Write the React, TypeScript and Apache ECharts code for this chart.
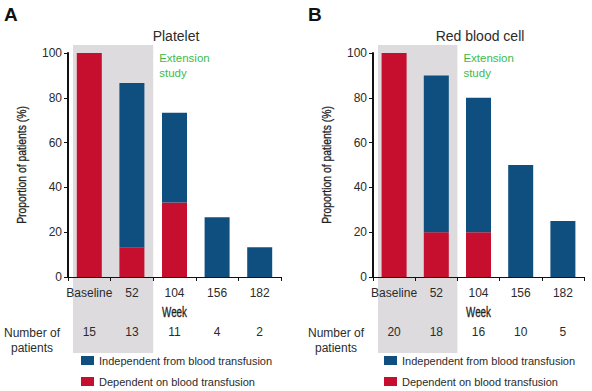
import React, { useEffect, useRef } from "react";
import * as echarts from "echarts";

const weeks = ["Baseline", "52", "104", "156", "182"];
const plateletIndependent = [0, 73.3, 40, 26.7, 13.3];
const plateletDependent = [100, 13.3, 33.3, 0, 0];
const rbcIndependent = [0, 70, 60, 50, 25];
const rbcDependent = [100, 20, 20, 0, 0];
const plateletPatients = [15, 13, 11, 4, 2];
const rbcPatients = [20, 18, 16, 10, 5];
const yTicks = [0, 20, 40, 60, 80, 100];

const BLUE = "#0e4f80";
const RED = "#c60f2e";
const GRAY = "#dddbde";
const GREEN = "#3dbb4a";
const TXT = "#2b2b2b";
const FONT = "'Liberation Sans', Arial, sans-serif";

const IND = "Independent from blood transfusion";
const DEP = "Dependent on blood transfusion";

export default function App() {
  const ref = useRef<HTMLDivElement>(null);
  useEffect(() => {
    if (!ref.current) return;
    const chart = echarts.init(ref.current, undefined, { renderer: "svg" });
    const grids = [
      { left: 68, top: 53, width: 213, height: 224 },
      { left: 373, top: 53, width: 211, height: 224 },
    ];
    const xAxis = grids.map((_, i) => ({
      type: "category",
      gridIndex: i,
      data: weeks,
      axisLine: { lineStyle: { color: "#111", width: 1 } },
      axisTick: { show: true, length: 4, lineStyle: { color: "#111" } },
      axisLabel: { fontFamily: FONT, fontSize: 12, color: TXT, margin: 10, interval: 0 },
    }));
    const yAxis = grids.map((_, i) => ({
      type: "value",
      gridIndex: i,
      min: 0,
      max: 100,
      interval: 20,
      axisLine: { show: true, lineStyle: { color: "#111", width: 2 } },
      axisTick: { show: true, length: 4, lineStyle: { color: "#111" } },
      splitLine: { show: false },
      axisLabel: { fontFamily: FONT, fontSize: 12, color: TXT, margin: 6, customValues: yTicks },
    }));
    const mk = (name: string, data: number[], color: string, idx: number) => ({
      type: "bar",
      name,
      xAxisIndex: idx,
      yAxisIndex: idx,
      stack: "s" + idx,
      barWidth: 25,
      data,
      itemStyle: { color },
      z: 3,
    });
    const series = [
      mk(DEP, plateletDependent, RED, 0),
      mk(IND, plateletIndependent, BLUE, 0),
      mk(DEP, rbcDependent, RED, 1),
      mk(IND, rbcIndependent, BLUE, 1),
    ];
    const legendBase = {
      orient: "vertical",
      top: 355,
      padding: 0,
      itemWidth: 13,
      itemHeight: 9,
      itemGap: 10,
      icon: "rect",
      selectedMode: false,
      data: [
        { name: IND, itemStyle: { color: BLUE } },
        { name: DEP, itemStyle: { color: RED } },
      ],
      textStyle: { fontFamily: FONT, fontSize: 11, color: TXT },
      itemStyle: { borderWidth: 0 },
    };
    chart.setOption({
      animation: false,
      backgroundColor: "#fff",
      grid: grids,
      xAxis,
      yAxis,
      series,
      legend: [
        { ...legendBase, left: 81 },
        { ...legendBase, left: 384 },
      ],
    });

    const graphics: any[] = [];
    const panels = [
      { idx: 0, letter: "A", letterX: 4, title: "Platelet", titleX: 176, patients: plateletPatients, labelX: 32, yLabelX: 22 },
      { idx: 1, letter: "B", letterX: 308, title: "Red blood cell", titleX: 480, patients: rbcPatients, labelX: 336, yLabelX: 327 },
    ];
    panels.forEach((p) => {
      const gi = { xAxisIndex: p.idx, yAxisIndex: p.idx } as any;
      const c0 = chart.convertToPixel(gi, [weeks[0], 100]) as number[];
      const c1 = chart.convertToPixel(gi, [weeks[1], 0]) as number[];
      const c2 = chart.convertToPixel(gi, [weeks[2], 50]) as number[];
      const half = (c1[0] - c0[0]) / 2;
      const left = c0[0] - half + 5;
      const right = c1[0] + half;
      const top = c0[1] - 8;
      graphics.push({
        type: "rect",
        z: -1,
        shape: { x: left, y: top, width: right - left, height: 353 - top },
        style: { fill: GRAY },
      });
      graphics.push({
        type: "text",
        x: p.letterX,
        y: 14,
        style: { text: p.letter, font: `bold 19px ${FONT}`, fill: "#111", verticalAlign: "middle" },
      });
      graphics.push({
        type: "text",
        x: p.titleX,
        y: 36,
        style: { text: p.title, font: `14px ${FONT}`, fill: TXT, align: "center", verticalAlign: "middle" },
      });
      graphics.push({
        type: "text",
        x: right + 6,
        y: 50,
        style: { text: "Extension\nstudy", font: `11.5px ${FONT}`, fill: GREEN, lineHeight: 15, verticalAlign: "top" },
      });
      graphics.push({
        type: "text",
        x: c2[0],
        y: 312,
        scaleX: 0.7,
        style: {
          text: "Week",
          font: `14px ${FONT}`,
          fill: "#222",
          stroke: "#222",
          lineWidth: 0.3,
          align: "center",
          verticalAlign: "middle",
        },
      });
      graphics.push({
        type: "text",
        x: p.yLabelX,
        y: c2[1],
        rotation: Math.PI / 2,
        scaleX: 0.77,
        style: {
          text: "Proportion of patients (%)",
          font: `13.5px ${FONT}`,
          fill: "#222",
          stroke: "#222",
          lineWidth: 0.3,
          align: "center",
          verticalAlign: "middle",
        },
      });
      graphics.push({
        type: "text",
        x: p.labelX,
        y: 340,
        style: {
          text: "Number of\npatients",
          font: `12px ${FONT}`,
          fill: TXT,
          align: "center",
          verticalAlign: "middle",
          lineHeight: 15,
        },
      });
      p.patients.forEach((n, i) => {
        const c = chart.convertToPixel(gi, [weeks[i], 0]) as number[];
        graphics.push({
          type: "text",
          x: c[0],
          y: 332,
          style: { text: String(n), font: `12px ${FONT}`, fill: TXT, align: "center", verticalAlign: "middle" },
        });
      });
    });
    chart.setOption({ graphic: graphics });
    return () => chart.dispose();
  }, []);
  return <div ref={ref} style={{ width: 592, height: 391, position: "absolute", left: 0, top: 0 }} />;
}
